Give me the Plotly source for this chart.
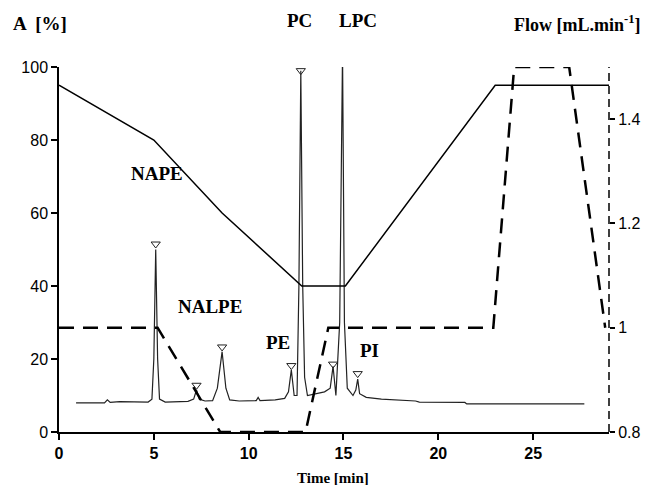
import plotly.graph_objects as go

# ---- Data ----
# Solvent A gradient [%]
grad_time = [0, 5, 8.6, 12.8, 15.1, 23.0, 29.0]
grad_A = [95, 80, 60, 40, 40, 95, 95]

# Flow rate [mL/min]
flow_time = [0, 5.2, 8.5, 13.0, 14.2, 22.9, 24.0, 26.9, 28.8]
flow_rate = [1.0, 1.0, 0.8, 0.8, 1.0, 1.0, 1.5, 1.5, 1.0]

# Chromatogram (detector response, % of scale)
chrom_time = [0.9, 2.4, 2.55, 2.7, 3.2, 4.7, 4.9, 5.0, 5.1, 5.2, 5.3, 5.6,
              6.8, 7.1, 7.25, 7.4, 7.7, 8.1, 8.35, 8.6, 8.8, 9.0, 9.5,
              10.4, 10.5, 10.6, 11.4, 11.9, 12.1, 12.25, 12.4, 12.55, 12.65,
              12.75, 12.85, 12.95, 13.1, 13.5, 14.0, 14.3, 14.45, 14.6, 14.8,
              14.95, 15.05, 15.2, 15.5, 15.65, 15.75, 15.85, 16.2, 17.0, 18.0,
              18.8, 19.0, 21.4, 21.5, 27.7]
chrom_val = [8.0, 8.0, 8.8, 8.1, 8.3, 8.2, 9.0, 20, 50, 20, 9.0, 8.2,
             8.4, 9.0, 11.5, 9.0, 8.5, 8.6, 12, 22, 12, 8.8, 8.5,
             8.6, 9.5, 8.6, 8.8, 9.2, 11, 17, 10, 10, 40,
             99, 40, 15, 10, 10.5, 11, 12, 18, 10, 30,
             104, 30, 12, 10, 11.5, 14.5, 10.5, 9.5, 9.0, 8.8,
             8.5, 8.2, 8.1, 7.7, 7.7]

# Peak markers
peak_time = [5.1, 7.25, 8.6, 12.25, 12.75, 14.45, 15.75]
peak_val = [51.5, 12.8, 23.3, 18.2, 99.0, 18.6, 16.0]

# Labels
peak_labels = ["NAPE", "NALPE", "PE", "PC", "LPC", "PI"]

x_ticks = [0, 5, 10, 15, 20, 25]
y_ticks = [0, 20, 40, 60, 80, 100]
y2_ticks = [0.8, 1.0, 1.2, 1.4]
y2_ticktext = ["0.8", "1", "1.2", "1.4"]

fig = go.Figure()

fig.add_trace(go.Scatter(x=chrom_time, y=chrom_val, mode="lines",
                         line=dict(color="#222222", width=1.2), showlegend=False))
fig.add_trace(go.Scatter(x=peak_time, y=peak_val, mode="markers",
                         marker=dict(symbol="triangle-down-open", size=8,
                                     color="#222222", line=dict(width=1)),
                         showlegend=False))
fig.add_trace(go.Scatter(x=grad_time, y=grad_A, mode="lines",
                         line=dict(color="black", width=1.5), showlegend=False))
fig.add_trace(go.Scatter(x=flow_time, y=flow_rate, mode="lines", yaxis="y2",
                         line=dict(color="black", width=2.5, dash="15px,9px"),
                         showlegend=False))

serif = "Liberation Serif"
sans = "Liberation Sans"

# page body has an 8px margin, so the figure is 645x477 placed at (8, 8)
fig.update_layout(
    width=645, height=477,
    margin=dict(l=51, r=44, t=59, b=53),
    plot_bgcolor="white", paper_bgcolor="white",
    xaxis=dict(range=[0, 29], tickvals=x_ticks, ticks="outside", ticklen=6,
               tickwidth=1.5, tickcolor="black",
               showline=True, linecolor="black", linewidth=1.5,
               showgrid=False, zeroline=False,
               tickfont=dict(family=sans, size=16, color="black", weight="bold")),
    yaxis=dict(range=[0, 100], tickvals=y_ticks, ticks="outside", ticklen=6,
               tickwidth=1.5, tickcolor="black",
               showline=True, linecolor="black", linewidth=1.5,
               showgrid=False, zeroline=False,
               tickfont=dict(family=sans, size=16, color="black")),
    yaxis2=dict(range=[0.8, 1.5], overlaying="y", side="right",
                tickvals=y2_ticks, ticktext=y2_ticktext, ticks="outside",
                ticklen=5, tickwidth=1.5, tickcolor="black",
                showline=False, showgrid=False, zeroline=False,
                tickfont=dict(family=sans, size=16, color="black")),
    shapes=[dict(type="line", xref="paper", yref="paper", x0=1, x1=1, y0=0, y1=1,
                 line=dict(color="black", width=1.5, dash="8px,5px"))],
)

def lab(text, x, y, size=19):
    fig.add_annotation(text=text, xref="paper", yref="paper", x=x, y=y,
                       xanchor="center", yanchor="middle", showarrow=False,
                       font=dict(family=serif, size=size, color="black", weight="bold"))

lab("A  [%]", -0.0345, 1.12)
lab("Flow [mL.min<sup>-1</sup>]", 0.9436, 1.12, size=18)
lab(peak_labels[3], 0.438, 1.128)
lab(peak_labels[4], 0.5436, 1.128)
lab(peak_labels[0], 0.178, 0.707)
lab(peak_labels[1], 0.2745, 0.345)
lab(peak_labels[2], 0.398, 0.244)
lab(peak_labels[5], 0.565, 0.222)
lab("Time [min]", 0.498, -0.126, size=15)

fig.write_html("out.html")
